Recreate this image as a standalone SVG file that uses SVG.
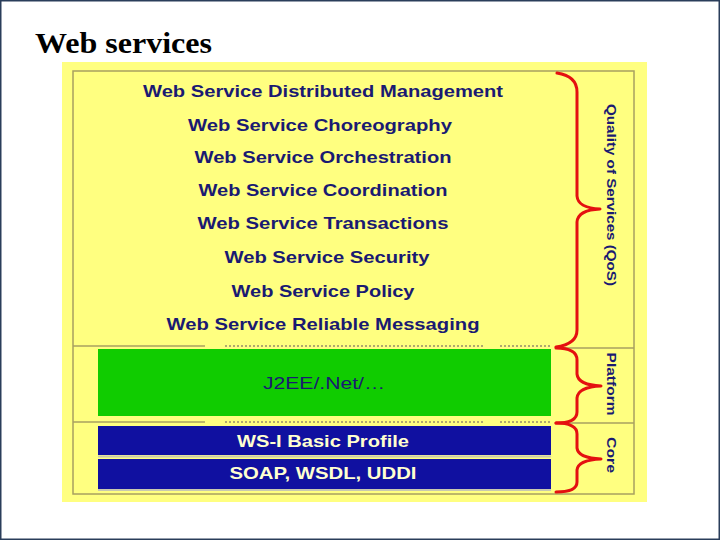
<svg xmlns="http://www.w3.org/2000/svg" width="720" height="540" viewBox="0 0 720 540">
  <style>
    .lbl { font-family: "Liberation Sans", Arial, sans-serif; font-weight: bold; font-size: 17px; fill: #1a1a72; text-anchor: middle; }
    .inv { font-family: "Liberation Sans", Arial, sans-serif; font-weight: bold; font-size: 17px; fill: #ffffd0; text-anchor: middle; }
    .side { font-family: "Liberation Sans", Arial, sans-serif; font-weight: bold; font-size: 13px; fill: #1a1a72; text-anchor: middle; }
    .frame { fill: none; stroke: #a8a060; stroke-width: 1.5; }
    .dash { fill: none; stroke: #b0a870; stroke-width: 2; stroke-dasharray: 2 2; }
    .brace { fill: none; stroke: #e41010; stroke-width: 3; stroke-linejoin: round; stroke-linecap: round; }
  </style>
  <rect x="0" y="0" width="720" height="540" fill="#ffffff"/>
  <rect x="0.75" y="0.75" width="718.5" height="538.5" fill="none" stroke="#2a3d5a" stroke-width="1.5"/>
  <text x="35" y="53" font-family="'Liberation Serif', 'Times New Roman', serif" font-weight="bold" font-size="29" fill="#000000" textLength="177" lengthAdjust="spacingAndGlyphs">Web services</text>

  <rect x="62" y="62" width="585" height="440" fill="#ffff80"/>
  <rect class="frame" x="73" y="71" width="561" height="423"/>
  <line class="frame" x1="73" y1="346" x2="205" y2="346"/>
  <line class="dash" x1="225" y1="346" x2="485" y2="346"/>
  <line class="dash" x1="500" y1="346" x2="550" y2="346"/>
  <line class="frame" x1="73" y1="422" x2="205" y2="422"/>
  <line class="dash" x1="225" y1="422" x2="485" y2="422"/>
  <line class="dash" x1="500" y1="422" x2="550" y2="422"/>
  <line class="frame" x1="563" y1="348" x2="634" y2="348"/>
  <line class="frame" x1="563" y1="423" x2="634" y2="423"/>

  <g id="qos-layers">
    <text class="lbl" x="323" y="97" textLength="360" lengthAdjust="spacingAndGlyphs">Web Service Distributed Management</text>
    <text class="lbl" x="320" y="131" textLength="264" lengthAdjust="spacingAndGlyphs">Web Service Choreography</text>
    <text class="lbl" x="323" y="163" textLength="257" lengthAdjust="spacingAndGlyphs">Web Service Orchestration</text>
    <text class="lbl" x="323" y="196" textLength="249" lengthAdjust="spacingAndGlyphs">Web Service Coordination</text>
    <text class="lbl" x="323" y="229" textLength="251" lengthAdjust="spacingAndGlyphs">Web Service Transactions</text>
    <text class="lbl" x="327" y="263" textLength="205" lengthAdjust="spacingAndGlyphs">Web Service Security</text>
    <text class="lbl" x="323" y="297" textLength="183" lengthAdjust="spacingAndGlyphs">Web Service Policy</text>
    <text class="lbl" x="323" y="330" textLength="313" lengthAdjust="spacingAndGlyphs">Web Service Reliable Messaging</text>
  </g>

  <g id="platform">
    <rect x="98" y="349" width="453" height="67" fill="#10cc00"/>
    <text x="324" y="389" font-family="'Liberation Sans', Arial, sans-serif" font-size="16" fill="#1a1a72" text-anchor="middle" textLength="122" lengthAdjust="spacingAndGlyphs">J2EE/.Net/…</text>
  </g>

  <g id="ws-i">
    <rect x="98" y="426" width="453" height="29" fill="#1010a0"/>
    <line x1="98" y1="456.5" x2="551" y2="456.5" stroke="#c8c8b0" stroke-width="2"/>
    <text class="inv" x="323" y="447" textLength="172" lengthAdjust="spacingAndGlyphs">WS-I Basic Profile</text>
  </g>
  <g id="soap">
    <rect x="98" y="459" width="453" height="30" fill="#1010a0"/>
    <line x1="98" y1="490" x2="551" y2="490" stroke="#c8c8b0" stroke-width="2"/>
    <text class="inv" x="323" y="479" textLength="187" lengthAdjust="spacingAndGlyphs">SOAP, WSDL, UDDI</text>
  </g>

  <g id="braces">
    <path class="brace" d="M557,73 Q577,76 577,92 L577,196 Q578,208 600,209 Q578,210 577,222 L577,330 Q577,344 556,347"/>
    <path class="brace" d="M556,348 Q577,348 577,360 L577,374 Q578,385 601,386 Q578,387 577,398 L577,412 Q577,423 556,423"/>
    <path class="brace" d="M556,423 Q577,423 577,434 L577,448 Q578,458 601,459 Q578,460 577,470 L577,482 Q577,492 556,492"/>
  </g>

  <g id="side-labels">
    <text class="side" transform="translate(607,195) rotate(90)" textLength="182" lengthAdjust="spacingAndGlyphs">Quality of Services (QoS)</text>
    <text class="side" transform="translate(607,384) rotate(90)" textLength="63" lengthAdjust="spacingAndGlyphs">Platform</text>
    <text class="side" transform="translate(607,455) rotate(90)" textLength="36" lengthAdjust="spacingAndGlyphs">Core</text>
  </g>
</svg>
